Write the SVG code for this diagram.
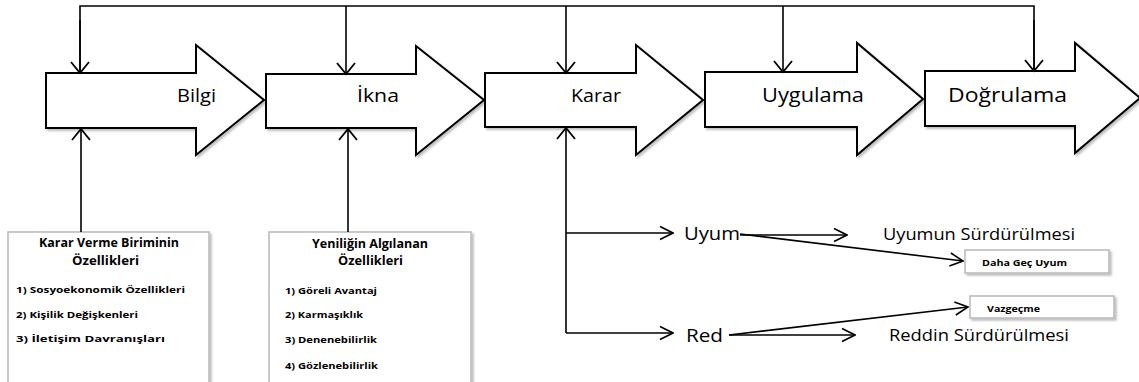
<svg xmlns="http://www.w3.org/2000/svg" width="1139" height="382" viewBox="0 0 1139 382">
  <defs>
    <marker id="openHead" viewBox="0 0 16 16" refX="15" refY="8" markerWidth="16" markerHeight="16" markerUnits="userSpaceOnUse" orient="auto">
      <path d="M2,1.5 L15,8 L2,14.5" fill="none" stroke="#000" stroke-width="1.6"/>
    </marker>
    <marker id="openHeadBig" viewBox="0 0 22 22" refX="20" refY="11" markerWidth="22" markerHeight="22" markerUnits="userSpaceOnUse" orient="auto">
      <path d="M9,2 L20,11 L9,20" fill="none" stroke="#000" stroke-width="1.8"/>
    </marker>
    <filter id="soft" x="-5%" y="-5%" width="115%" height="120%">
      <feDropShadow dx="2" dy="2" stdDeviation="1.2" flood-color="#000" flood-opacity="0.25"/>
    </filter>
  </defs>
  <style>
    .stage { fill: #fff; stroke: #000; stroke-width: 2; stroke-linejoin: miter; filter: url(#soft); }
    .stage-label { font-family: "Open Sans", "Noto Sans", sans-serif; font-size: 18px; fill: #000; }
    .stage-label-lg { font-family: "Open Sans", "Noto Sans", sans-serif; font-size: 19.5px; fill: #000; }
    .wire { fill: none; stroke: #000; stroke-width: 1.6; }
    .panel { fill: #fff; stroke: #bcbcbc; stroke-width: 1.6; filter: url(#soft); }
    .panel-title { font-family: "Open Sans", "Noto Sans", sans-serif; font-size: 11.5px; font-weight: bold; fill: #000; }
    .panel-item { font-family: "Open Sans", "Noto Sans", sans-serif; font-size: 9.5px; font-weight: bold; fill: #000; }
    .outcome { font-family: "Open Sans", "Noto Sans", sans-serif; font-size: 18.5px; fill: #000; }
    .outcome-small { font-family: "Open Sans", "Noto Sans", sans-serif; font-size: 16px; fill: #000; }
    .tag { font-family: "Open Sans", "Noto Sans", sans-serif; font-size: 8.5px; font-weight: bold; fill: #000; }
  </style>

  <rect width="1139" height="382" fill="#fff"/>

  <!-- process stages -->
  <g id="stage-bilgi">
    <path class="stage" d="M46,73 H196 V45 L264,100 L196,155 V128 H46 Z"/>
    <text class="stage-label" x="177" y="102" textLength="39" lengthAdjust="spacingAndGlyphs">Bilgi</text>
  </g>
  <g id="stage-ikna">
    <path class="stage" d="M266,74 H416 V46 L484,100 L416,155 V128 H266 Z"/>
    <text class="stage-label" x="357" y="102" textLength="42" lengthAdjust="spacingAndGlyphs">İkna</text>
  </g>
  <g id="stage-karar">
    <path class="stage" d="M485,73 H636 V45 L703,100 L636,155 V127 H485 Z"/>
    <text class="stage-label" x="571" y="102" textLength="50" lengthAdjust="spacingAndGlyphs">Karar</text>
  </g>
  <g id="stage-uygulama">
    <path class="stage" d="M705,72 H857 V43 L923,99 L857,155 V127 H705 Z"/>
    <text class="stage-label-lg" x="762" y="102" textLength="102" lengthAdjust="spacingAndGlyphs">Uygulama</text>
  </g>
  <g id="stage-dogrulama">
    <path class="stage" d="M925,71 H1075 V43 L1140,98 L1075,153 V126 H925 Z"/>
    <text class="stage-label-lg" x="948" y="102" textLength="119" lengthAdjust="spacingAndGlyphs">Doğrulama</text>
  </g>

  <!-- input panels -->
  <g id="panel-karar-birimi">
    <rect class="panel" x="8" y="232" width="201" height="170"/>
    <text class="panel-title" x="39" y="247" textLength="140" lengthAdjust="spacingAndGlyphs">Karar Verme Biriminin</text>
    <text class="panel-title" x="72" y="265" textLength="67" lengthAdjust="spacingAndGlyphs">Özellikleri</text>
    <text class="panel-item" x="16" y="293" textLength="169" lengthAdjust="spacingAndGlyphs">1) Sosyoekonomik Özellikleri</text>
    <text class="panel-item" x="16" y="318" textLength="122" lengthAdjust="spacingAndGlyphs">2) Kişilik Değişkenleri</text>
    <text class="panel-item" x="16" y="342" textLength="149" lengthAdjust="spacingAndGlyphs">3) İletişim Davranışları</text>
  </g>
  <g id="panel-yenilik">
    <rect class="panel" x="269" y="232" width="202" height="170"/>
    <text class="panel-title" x="312" y="248" textLength="116" lengthAdjust="spacingAndGlyphs">Yeniliğin Algılanan</text>
    <text class="panel-title" x="338" y="265" textLength="65" lengthAdjust="spacingAndGlyphs">Özellikleri</text>
    <text class="panel-item" x="285" y="294" textLength="92" lengthAdjust="spacingAndGlyphs">1) Göreli Avantaj</text>
    <text class="panel-item" x="285" y="318" textLength="78" lengthAdjust="spacingAndGlyphs">2) Karmaşıklık</text>
    <text class="panel-item" x="285" y="343" textLength="92" lengthAdjust="spacingAndGlyphs">3) Denenebilirlik</text>
    <text class="panel-item" x="285" y="369" textLength="93" lengthAdjust="spacingAndGlyphs">4) Gözlenebilirlik</text>
  </g>

  <!-- decision outcomes -->
  <g id="outcome-uyum">
    <text class="outcome" x="684" y="240" textLength="56" lengthAdjust="spacingAndGlyphs">Uyum</text>
  </g>
  <g id="outcome-red">
    <text class="outcome" x="686" y="342" textLength="37" lengthAdjust="spacingAndGlyphs">Red</text>
  </g>
  <g id="outcome-uyum-surdur">
    <text class="outcome-small" x="883" y="240" textLength="192" lengthAdjust="spacingAndGlyphs">Uyumun Sürdürülmesi</text>
  </g>
  <g id="outcome-red-surdur">
    <text class="outcome-small" x="889" y="341" textLength="180" lengthAdjust="spacingAndGlyphs">Reddin Sürdürülmesi</text>
  </g>
  <g id="outcome-gec-uyum">
    <rect class="panel" x="965" y="250" width="144" height="23"/>
    <text class="tag" x="982" y="266" textLength="85" lengthAdjust="spacingAndGlyphs">Daha Geç Uyum</text>
  </g>
  <g id="outcome-vazgecme">
    <rect class="panel" x="970" y="296" width="144" height="22"/>
    <text class="tag" x="987" y="312" textLength="53" lengthAdjust="spacingAndGlyphs">Vazgeçme</text>
  </g>

  <!-- connectors -->
  <g id="connectors">
    <!-- feedback bus across the top -->
    <path class="wire" d="M80,73 V6 H1034 V71"/>
    <path class="wire" marker-end="url(#openHeadBig)" d="M80,20 V73"/>
    <path class="wire" marker-end="url(#openHeadBig)" d="M346,6 V74"/>
    <path class="wire" marker-end="url(#openHeadBig)" d="M566,6 V73"/>
    <path class="wire" marker-end="url(#openHeadBig)" d="M783,6 V72"/>
    <path class="wire" marker-end="url(#openHeadBig)" d="M1034,20 V71"/>

    <!-- panel inputs -->
    <path class="wire" marker-end="url(#openHeadBig)" d="M81,232 V129"/>
    <path class="wire" marker-end="url(#openHeadBig)" d="M348,232 V129"/>

    <!-- decision branch -->
    <path class="wire" marker-end="url(#openHeadBig)" d="M566,333 V128"/>
    <path class="wire" marker-end="url(#openHead)" d="M566,233 H673"/>
    <path class="wire" marker-end="url(#openHead)" d="M566,333 H673"/>

    <!-- outcome follow-ups -->
    <path class="wire" marker-end="url(#openHead)" d="M740,235 H847"/>
    <path class="wire" marker-end="url(#openHead)" d="M740,234 L963,261"/>
    <path class="wire" marker-end="url(#openHead)" d="M729,335 H855"/>
    <path class="wire" marker-end="url(#openHead)" d="M729,335 L968,307"/>
  </g>
</svg>
